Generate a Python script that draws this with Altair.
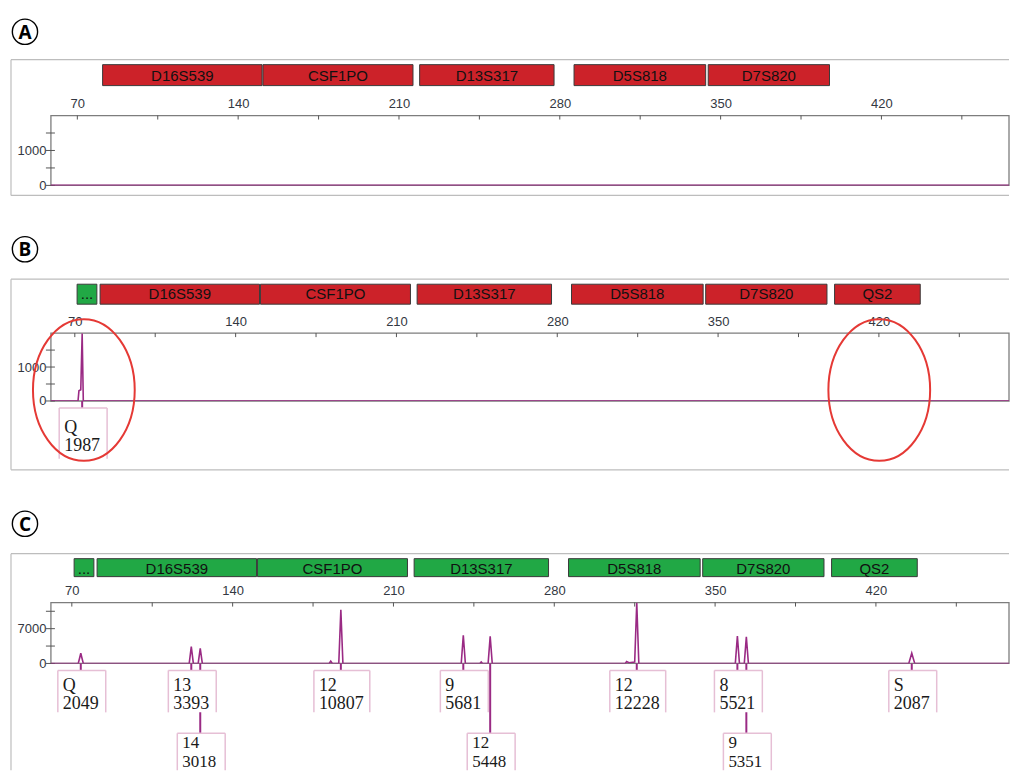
import altair as alt
import pandas as pd

# ---------------- data ----------------
locus_names = ["...", "D16S539", "CSF1PO", "D13S317", "D5S818", "D7S820", "QS2"]
locus_start = [71.0, 81.0, 150.8, 219.0, 286.2, 344.6, 400.7]
locus_end = [79.6, 150.4, 216.1, 277.5, 343.5, 397.4, 438.0]
status_a = ["none", "fail", "fail", "fail", "fail", "fail", "none"]
status_b = ["pass", "fail", "fail", "fail", "fail", "fail", "fail"]
status_c = ["pass", "pass", "pass", "pass", "pass", "pass", "pass"]

size_ticks = [70, 105, 140, 175, 210, 245, 280, 315, 350, 385, 420, 455]
size_labels = [70, 140, 210, 280, 350, 420]

a_size = [58.0, 481.0]
a_rfu = [0, 0]
ab_y_ticks = [0, 500, 1000, 1500]
ab_y_labels = [0, 1000]

b_size = [58.0, 71.4, 71.8, 72.6, 73.2, 73.7, 481.0]
b_rfu = [0, 0, 300, 330, 1987, 0, 0]
b_peak_size = [73.2]
b_allele = ["Q"]
b_height = [1987]
b_row = [1]

c_size = [58.0,
          72.8, 73.4, 73.9, 74.4, 75.0,
          121.1, 122.0, 122.9,
          125.0, 125.9, 126.8,
          182.0, 182.7, 183.4,
          186.2, 187.1, 188.0,
          239.5, 240.4, 241.3,
          247.6, 248.2, 248.8,
          251.2, 252.1, 253.0,
          310.9, 311.5, 312.5, 315.0, 315.9, 316.8,
          358.8, 359.7, 360.6,
          362.7, 363.6, 364.5,
          434.3, 435.0, 435.6, 436.2, 436.9,
          481.0]
c_rfu = [0,
         0, 1100, 2049, 1100, 0,
         0, 3393, 0,
         0, 3018, 0,
         0, 450, 0,
         0, 10807, 0,
         0, 5681, 0,
         0, 300, 0,
         0, 5448, 0,
         0, 400, 150, 300, 12228, 0,
         0, 5521, 0,
         0, 5351, 0,
         0, 1100, 2087, 1100, 0,
         0]
c_peak_size = [73.9, 122.0, 125.9, 187.1, 240.4, 252.1, 315.9, 359.7, 363.6, 435.6]
c_allele = ["Q", "13", "14", "12", "9", "12", "12", "8", "9", "S"]
c_height = [2049, 3393, 3018, 10807, 5681, 5448, 12228, 5521, 5351, 2087]
c_row = [1, 1, 2, 1, 1, 2, 1, 1, 2, 1]
c_y_ticks = [0, 3500, 7000, 10500]
c_y_labels = [0, 7000]

# ---------------- style ----------------
W = 960
PXBP = 2.302
SANS = "Liberation Sans"
SERIF = "Liberation Serif"
RED = "#cc2229"
GREEN = "#21a845"
TRACE = "#9a2a84"
PINK = "#e6bfd5"
FRAME = "#7d7d7d"
OUTER = "#bdbdbd"
AXC = "#333842"


def panel(letter, status, size, rfu, x0, ydom, yticks, ylabels, h, g,
          pk=None, ellipses=False):
    xs = alt.Scale(domain=[x0, x0 + W / PXBP], nice=False, zero=False)
    ys = alt.Scale(domain=ydom, nice=False, zero=False)
    xax = alt.Axis(orient="top", values=size_labels, ticks=False, domain=False, grid=False,
                   labelFont=SANS, labelFontSize=13, labelColor=AXC, labelPadding=5,
                   title=None)
    yax = alt.Axis(values=ylabels, format="d", ticks=False, domain=False, grid=False,
                   labelFont=SANS, labelFontSize=13, labelColor=AXC, labelPadding=5,
                   title=None)
    X = lambda f: alt.X(f, scale=xs, axis=xax)
    Y = lambda f: alt.Y(f, scale=ys, axis=yax)
    one = pd.DataFrame({"k": [0]})
    layers = []

    # outer panel frame (top, left and - where visible - bottom edges)
    fr = alt.Chart(one)
    layers.append(fr.mark_rule(color=OUTER, strokeWidth=1.2).encode(
        x=alt.value(-40), x2=alt.value(W), y=alt.value(g["otop"])))
    layers.append(fr.mark_rule(color=OUTER, strokeWidth=1.2).encode(
        x=alt.value(-40), y=alt.value(g["otop"]), y2=alt.value(g["obot"])))
    if g.get("obottom", True):
        layers.append(fr.mark_rule(color=OUTER, strokeWidth=1.2).encode(
            x=alt.value(-40), x2=alt.value(W), y=alt.value(g["obot"])))
    # panel letter
    layers.append(fr.mark_point(shape="circle", size=640, filled=False, color="black",
                                strokeWidth=1.4, opacity=1).encode(
        x=alt.value(-26), y=alt.value(g["cy"])))
    layers.append(fr.mark_text(font="Open Sans", fontWeight="bold", fontSize=19,
                               color="black", baseline="middle").encode(
        x=alt.value(-26), y=alt.value(g["cy"] + 1), text=alt.value(letter)))

    # locus bars
    loci = pd.DataFrame({"name": locus_names, "start": locus_start, "end": locus_end,
                         "status": status})
    loci = loci[loci["status"] != "none"]
    bars = alt.Chart(loci)
    layers.append(bars.mark_rect(stroke="#3a3a3a", strokeWidth=1).encode(
        x=X("start:Q"), x2="end:Q", y=alt.value(g["btop"]), y2=alt.value(g["bbot"]),
        color=alt.Color("status:N", scale=alt.Scale(domain=["fail", "pass"], range=[RED, GREEN]),
                        legend=None)))
    layers.append(bars.transform_calculate(mid="(datum.start + datum.end) / 2").mark_text(
        font=SANS, fontSize=15, color="#111", baseline="alphabetic").encode(
        x=X("mid:Q"), y=alt.value(g["btext"]), text="name:N"))

    # plot frame
    layers.append(fr.mark_rect(fill="transparent", stroke=FRAME, strokeWidth=1.3).encode(
        x=alt.value(0), x2=alt.value(W), y=alt.value(0), y2=alt.value(h)))
    # ticks crossing the axes
    layers.append(alt.Chart(pd.DataFrame({"t": size_ticks})).mark_rule(
        color="#555", strokeWidth=1, clip=True).encode(
        x=X("t:Q"), y=alt.value(-3), y2=alt.value(4)))
    layers.append(alt.Chart(pd.DataFrame({"v": yticks})).mark_rule(color="#555", strokeWidth=1).encode(
        y=Y("v:Q"), x=alt.value(-5), x2=alt.value(4)))

    # trace
    layers.append(alt.Chart(pd.DataFrame({"size": size, "rfu": rfu})).mark_line(
        color=TRACE, strokeWidth=1.6, clip=True).encode(x=X("size:Q"), y=Y("rfu:Q")))

    if pk is not None:
        src = alt.Chart(pk)
        for row in g["rows"]:
            r = row["row"]
            layers.append(src.transform_filter(f"datum.row == {r}").mark_rule(
                color=TRACE, strokeWidth=2).encode(
                x=X("size:Q"), y=alt.value(h), y2=alt.value(row["top"])))
        for row in g["rows"]:
            r = row["row"]
            for wide, (l, rr) in ((False, (-23, 25)), (True, (-27, 29))):
                cond = ">=" if wide else "<"
                s = src.transform_filter(f"datum.row == {r} && datum.height {cond} 10000")
                layers.append(s.mark_rect(fill="white", xOffset=l, x2Offset=rr).encode(
                    x=X("size:Q"), x2="size:Q", y=alt.value(row["top"]), y2=alt.value(row["bot"])))
                layers.append(s.mark_rule(color=PINK, strokeWidth=1.5, xOffset=l, x2Offset=rr).encode(
                    x=X("size:Q"), x2="size:Q", y=alt.value(row["top"])))
                for off in (l, rr):
                    layers.append(s.mark_rule(color=PINK, strokeWidth=1.5, xOffset=off).encode(
                        x=X("size:Q"), y=alt.value(row["top"]), y2=alt.value(row["bot"])))
                layers.append(s.transform_calculate(
                    lab="datum.allele + '\\n' + datum.height").mark_text(
                    font=SERIF, fontSize=row["fs"], color="#1a1a1a", align="left",
                    baseline="alphabetic", lineBreak="\n", lineHeight=row["lh"],
                    xOffset=l + 5).encode(
                    x=X("size:Q"), y=alt.value(row["t1"]), text="lab:N"))

    if ellipses:
        ell = "M0,-1 A0.718,1 0 1,1 0,1 A0.718,1 0 1,1 0,-1 Z"
        for ex in (33, 830):
            layers.append(fr.mark_point(shape=ell, size=20164, filled=False,
                                        color="#e53935", strokeWidth=2, opacity=1).encode(
                x=alt.value(ex), y=alt.value(57)))

    return alt.layer(*layers).properties(width=W, height=h)


def spacer(hh):
    one = pd.DataFrame({"k": [0]})
    return alt.Chart(one).mark_rule(opacity=0).encode(
        x=alt.value(0), y=alt.value(0), y2=alt.value(1)).properties(width=W, height=hh)


gA = dict(otop=-56, obot=80, btop=-51, bbot=-30, btext=-35, cy=-84)
gB = dict(otop=-54, obot=137, btop=-49, bbot=-29, btext=-34, cy=-84,
          rows=[dict(row=1, top=75, bot=126, t1=100, lh=18, fs=18)])
gC = dict(otop=-49, obot=168, obottom=False, btop=-44, bbot=-26, btext=-29, cy=-79,
          rows=[dict(row=1, top=68, bot=110, t1=89, lh=18, fs=18),
                dict(row=2, top=131, bot=168, t1=146, lh=19, fs=17)])

pkB = pd.DataFrame({"size": b_peak_size, "allele": b_allele, "height": b_height, "row": b_row})
pkC = pd.DataFrame({"size": c_peak_size, "allele": c_allele, "height": c_height, "row": c_row})

A = panel("A", status_a, a_size, a_rfu, 58.5, [0, 2000], ab_y_ticks, ab_y_labels, 70, gA)
B = panel("B", status_b, b_size, b_rfu, 59.6, [0, 2000], ab_y_ticks, ab_y_labels, 68, gB,
          pk=pkB, ellipses=True)
C = panel("C", status_c, c_size, c_rfu, 60.9, [0, 12250], c_y_ticks, c_y_labels, 61, gC,
          pk=pkC)

chart = alt.vconcat(A, spacer(148), B, spacer(202), C, spacing=0, bounds="flush").resolve_scale(
    x="independent", y="independent").configure_view(stroke="transparent").properties(
    padding={"left": 1, "top": 7, "right": 0, "bottom": 0})

chart.save("out.html", embed_options={"renderer": "svg", "actions": False})
